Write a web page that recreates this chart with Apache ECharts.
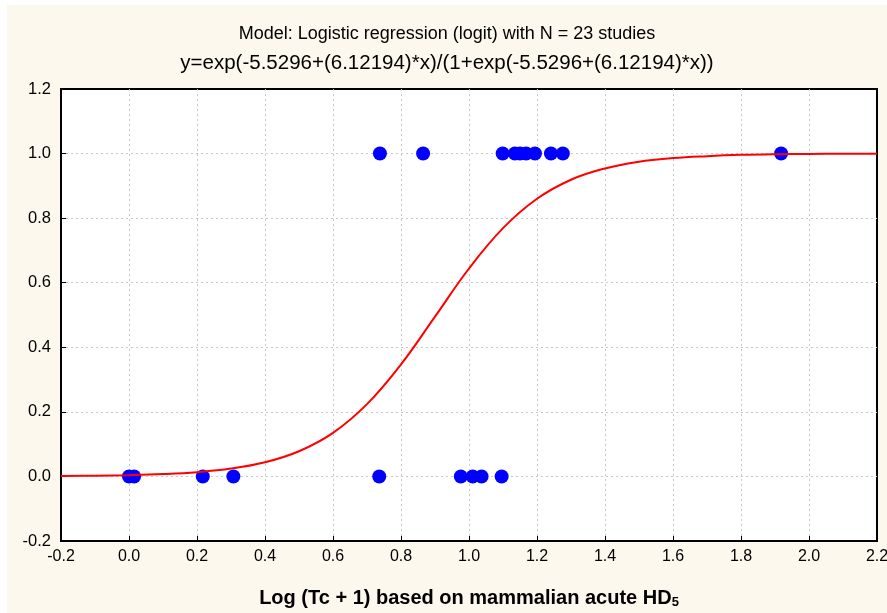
<!DOCTYPE html>
<html>
<head>
<meta charset="utf-8">
<title>Logistic regression</title>
<script src="https://cdn.jsdelivr.net/npm/echarts@6/dist/echarts.min.js"></script>
<style>
  html, body { margin: 0; padding: 0; background: #ffffff; }
  #chart { position: absolute; left: 7px; top: 5px; width: 880px; height: 608px; }
</style>
</head>
<body>
<div id="chart"></div>
<script>
// observed studies, x = log(Tc + 1), y = response (0/1)
const obsX = [0.0, 0.015, 0.217, 0.307, 0.736, 0.976, 1.011, 1.037, 1.096,
  0.738, 0.865, 1.099, 1.135, 1.15, 1.168, 1.194, 1.241, 1.276, 1.918];
const obsY = [0, 0, 0, 0, 0, 0, 0, 0, 0,
  1, 1, 1, 1, 1, 1, 1, 1, 1, 1];

// fitted curve
const curveX = [-0.2, -0.1, 0.0, 0.1, 0.2, 0.3, 0.4, 0.5, 0.6, 0.7, 0.8, 0.9,
  1.0, 1.1, 1.2, 1.3, 1.4, 1.5, 1.6, 1.7, 1.8, 1.9, 2.0, 2.1, 2.2];
const curveY = [0.0012, 0.0022, 0.004, 0.0073, 0.0133, 0.0243, 0.0439, 0.0781,
  0.135, 0.224, 0.347, 0.495, 0.644, 0.769, 0.86, 0.919, 0.954, 0.975, 0.986,
  0.992, 0.996, 0.998, 0.9988, 0.9993, 0.9996];

const xTicks = { min: -0.2, max: 2.2, step: 0.2 };
const yTicks = { min: -0.2, max: 1.2, step: 0.2 };

const font = '"Liberation Sans", Arial, sans-serif';
const gridLine = { show: true, showMinLine: false, showMaxLine: false,
  lineStyle: { color: '#c8c8c8', type: [2, 3], width: 1 } };

const chart = echarts.init(document.getElementById('chart'));
chart.setOption({
  backgroundColor: '#fdf8ee',
  animation: false,
  textStyle: { fontFamily: font },
  title: [
    {
      text: 'Model: Logistic regression (logit) with N = 23 studies',
      left: 'center', top: 15,
      textStyle: { fontSize: 18, fontWeight: 'normal', color: '#000', fontFamily: font }
    },
    {
      text: 'y=exp(-5.5296+(6.12194)*x)/(1+exp(-5.5296+(6.12194)*x))',
      left: 'center', top: 43,
      textStyle: { fontSize: 20.5, fontWeight: 'normal', color: '#000', fontFamily: font }
    }
  ],
  grid: {
    left: 54, top: 84, right: 10, bottom: 72,
    outerBoundsMode: 'none',
    show: true, backgroundColor: '#ffffff', borderColor: '#000', borderWidth: 2
  },
  xAxis: {
    type: 'value',
    min: xTicks.min, max: xTicks.max, interval: xTicks.step,
    axisLine: { onZero: false, lineStyle: { color: '#000', width: 2 } },
    axisTick: { inside: true, length: 5, lineStyle: { color: '#000', width: 1 } },
    axisLabel: { color: '#000', fontSize: 16, margin: 8, formatter: v => v.toFixed(1) },
    splitLine: gridLine,
    name: '{a|Log (Tc + 1) based on mammalian acute HD}{s|5}',
    nameLocation: 'middle',
    nameGap: 46,
    nameTextStyle: {
      rich: {
        a: { fontSize: 20, fontWeight: 'bold', color: '#000', fontFamily: font },
        s: { fontSize: 13, fontWeight: 'bold', color: '#000', fontFamily: font, padding: [9, 0, 0, 0] }
      }
    }
  },
  yAxis: {
    type: 'value',
    min: yTicks.min, max: yTicks.max, interval: yTicks.step,
    axisLine: { onZero: false, lineStyle: { color: '#000', width: 2 } },
    axisTick: { inside: true, length: 5, lineStyle: { color: '#000', width: 1 } },
    axisLabel: { color: '#000', fontSize: 16.5, margin: 10, formatter: v => v.toFixed(1) },
    splitLine: gridLine
  },
  series: [
    {
      type: 'scatter',
      data: obsX.map((x, i) => [x, obsY[i]]),
      symbol: 'circle',
      symbolSize: 14,
      itemStyle: { color: '#0000ff', opacity: 1 },
      z: 2
    },
    {
      type: 'line',
      data: curveX.map((x, i) => [x, curveY[i]]),
      smooth: 0.4,
      showSymbol: false,
      lineStyle: { color: '#ff0000', width: 2 },
      z: 3
    }
  ]
});
</script>
</body>
</html>
